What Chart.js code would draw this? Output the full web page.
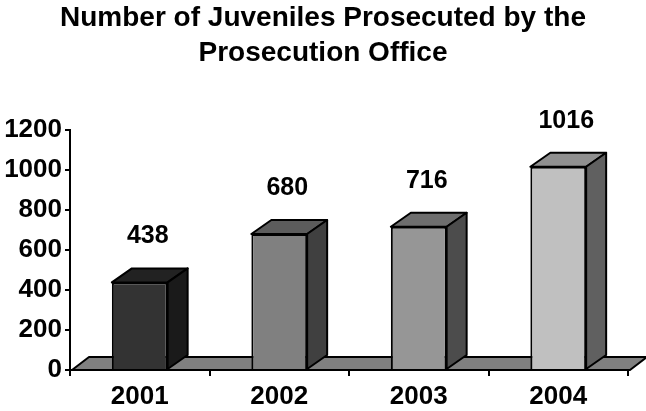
<!DOCTYPE html>
<html>
<head>
<meta charset="utf-8">
<script src="https://cdn.jsdelivr.net/npm/chart.js@4.4.1/dist/chart.umd.min.js"></script>
<style>
  html, body { margin: 0; padding: 0; background: #fff; }
  #wrap { width: 646px; height: 411px; }
</style>
</head>
<body>
<div id="wrap"><canvas id="myChart"></canvas></div>
<script>
// juveniles prosecuted per year
var years = ["2001", "2002", "2003", "2004"];
var counts = [438, 680, 716, 1016];
var titleLines = ["Number of Juveniles Prosecuted by the", "Prosecution Office"];
var frontColors = ["#333333", "#808080", "#969696", "#c0c0c0"];
var topColors = ["#222222", "#5c5c5c", "#6e6e6e", "#909090"];
var sideColors = ["#1a1a1a", "#404040", "#4c4c4c", "#606060"];

var FONT = "'Liberation Sans', Arial, sans-serif";
Chart.defaults.color = "#000";

// title centred on the whole canvas, not on the padded box
var pageTitle = {
  id: "pageTitle",
  afterDraw: function(chart) {
    var ctx = chart.ctx;
    ctx.save();
    ctx.font = "bold 28px " + FONT;
    ctx.fillStyle = "#000";
    ctx.textAlign = "center";
    ctx.textBaseline = "middle";
    titleLines.forEach(function(t, i) {
      ctx.fillText(t, chart.width / 2, 18 + i * 35);
    });
    ctx.restore();
  }
};

// fake 3d: floor under the bars, then top and right faces of each bar
var box3d = {
  id: "box3d",
  beforeDatasetsDraw: function(chart) {
    var ctx = chart.ctx, a = chart.chartArea;
    var fdx = 17, fdy = -13;
    ctx.save();
    ctx.lineWidth = 2;
    ctx.strokeStyle = "#000";
    ctx.lineJoin = "round";
    ctx.fillStyle = "#808080";
    ctx.beginPath();
    ctx.moveTo(a.left + 2, a.bottom);
    ctx.lineTo(a.left + 2 + fdx, a.bottom + fdy);
    ctx.lineTo(a.right + 2 + fdx, a.bottom + fdy);
    ctx.lineTo(a.right + 2, a.bottom);
    ctx.closePath();
    ctx.fill();
    ctx.stroke();

    var dx = 20, dy = -14;
    chart.getDatasetMeta(0).data.forEach(function(bar, i) {
      var x0 = bar.x - bar.width / 2, x1 = bar.x + bar.width / 2;
      var yt = bar.y, yb = bar.base;
      ctx.fillStyle = topColors[i];
      ctx.beginPath();
      ctx.moveTo(x0, yt);
      ctx.lineTo(x0 + dx, yt + dy);
      ctx.lineTo(x1 + dx, yt + dy);
      ctx.lineTo(x1, yt);
      ctx.closePath();
      ctx.fill();
      ctx.stroke();
      ctx.fillStyle = sideColors[i];
      ctx.beginPath();
      ctx.moveTo(x1, yt);
      ctx.lineTo(x1 + dx, yt + dy);
      ctx.lineTo(x1 + dx, yb + dy);
      ctx.lineTo(x1, yb);
      ctx.closePath();
      ctx.fill();
      ctx.stroke();
    });
    ctx.restore();
  },
  afterDatasetsDraw: function(chart) {
    var ctx = chart.ctx;
    ctx.save();
    ctx.font = "bold 25px " + FONT;
    ctx.fillStyle = "#000";
    ctx.textAlign = "center";
    ctx.textBaseline = "middle";
    chart.getDatasetMeta(0).data.forEach(function(bar, i) {
      ctx.fillText(String(counts[i]), bar.x + 8, bar.y - 46);
    });
    ctx.restore();
  }
};

new Chart("myChart", {
  type: "bar",
  data: {
    labels: years,
    datasets: [{
      data: counts,
      backgroundColor: frontColors,
      borderColor: "#000",
      borderWidth: 2,
      barPercentage: 0.4,
      categoryPercentage: 1
    }]
  },
  options: {
    responsive: true,
    maintainAspectRatio: false,
    animation: false,
    layout: { padding: { left: 0, right: 18, top: 130, bottom: 0 } },
    plugins: {
      legend: { display: false },
      tooltip: { enabled: false },
      title: { display: false }
    },
    scales: {
      x: {
        afterFit: function(s) { s.height = 41; },
        grid: { display: true, offset: true, drawOnChartArea: false, tickLength: 6, color: "#000", lineWidth: 2 },
        border: { color: "#000", width: 2 },
        ticks: { font: { family: FONT, size: 26, weight: "bold" }, padding: 5, color: "#000" }
      },
      y: {
        min: 0,
        max: 1200,
        afterFit: function(s) { s.width = 70; },
        grid: { display: true, drawOnChartArea: false, tickLength: 5, color: "#000", lineWidth: 2 },
        border: { color: "#000", width: 2 },
        ticks: {
          stepSize: 200,
          font: { family: FONT, size: 26, weight: "bold" },
          padding: 3,
          color: "#000",
          callback: function(v) { return String(v); }
        }
      }
    }
  },
  plugins: [box3d, pageTitle]
});
</script>
</body>
</html>
